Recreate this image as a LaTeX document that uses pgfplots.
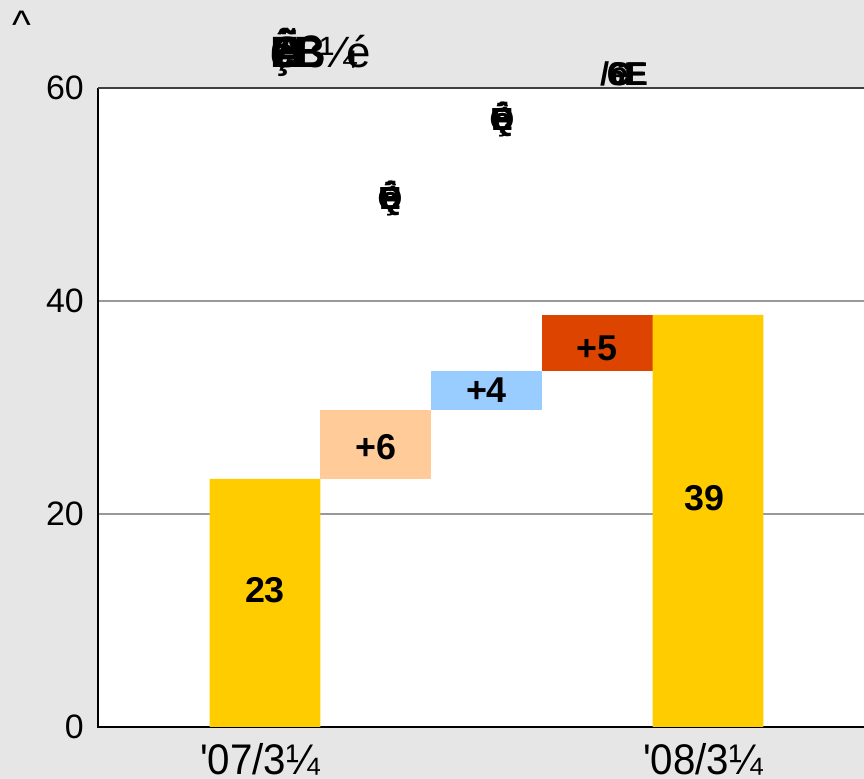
\documentclass[border=0pt]{standalone}
\usepackage{fontspec}
\setmainfont{Liberation Sans}
\newfontfamily\lbl{Liberation Sans}
\usepackage{graphicx}
\usepackage{pgfplots}
\pgfplotsset{compat=1.18}
\definecolor{bg}{HTML}{E6E6E6}
\definecolor{gold}{HTML}{FFCC00}
\definecolor{peach}{HTML}{FFCC99}
\definecolor{sky}{HTML}{99CCFF}
\definecolor{rust}{HTML}{DD4400}
\newcommand{\ov}[1]{\makebox[0pt][c]{#1}}
\newcommand{\xa}{\scalebox{0.94}[1]{\lbl '07/3¼}}
\newcommand{\xb}{\scalebox{0.94}[1]{\lbl '08/3¼}}
\begin{document}
\begin{tikzpicture}[x=1bp,y=1bp]
\useasboundingbox (0,0) rectangle (864,779);
\fill[bg] (0,0) rectangle (864,779);
\begin{axis}[
  at={(98bp,52bp)}, anchor=south west,
  width=766bp, height=639bp, scale only axis,
  xmin=-1.508, xmax=5.409, ymin=0, ymax=60,
  axis background/.style={fill=white},
  axis line style={draw=none},
  ytick={0,20,40,60},
  xtick={0,4},
  xticklabels={\xa,\xb},
  major tick length=0,
  ymajorgrids,
  grid style={color=black!40, line width=1.2bp},
  /pgf/number format/assume math mode=true,
  yticklabel style={font=\fontsize{34}{40}\selectfont, inner sep=0pt, xshift=-14bp},
  xticklabel style={font=\fontsize{43}{46}\selectfont, inner sep=0pt, anchor=north, yshift=-16bp, xshift=-5bp},
  ybar stacked, bar width=1,
  clip=false,
]
\addplot[draw=none, fill=none] coordinates {(0,0) (1,23.29) (2,29.77) (3,33.43) (4,0)};
\addplot[draw=none, fill=gold] coordinates {(0,23.29) (1,0) (2,0) (3,0) (4,38.69)};
\addplot[draw=none, fill=peach] coordinates {(0,0) (1,6.48) (2,0) (3,0) (4,0)};
\addplot[draw=none, fill=sky] coordinates {(0,0) (1,0) (2,3.66) (3,0) (4,0)};
\addplot[draw=none, fill=rust] coordinates {(0,0) (1,0) (2,0) (3,5.26) (4,0)};
\draw[black!75, line width=2bp] (rel axis cs:0,1) -- (rel axis cs:1,1);
\draw[black, line width=1.5bp] (rel axis cs:0,1) -- (rel axis cs:0,0) -- (rel axis cs:1,0);
\coordinate (l1) at (axis cs:0,12.86);
\coordinate (l2) at (axis cs:1,26.3);
\coordinate (l3) at (axis cs:2,31.6);
\coordinate (l4) at (axis cs:3,35.6);
\coordinate (l5) at (axis cs:3.97,21.5);
\end{axis}
\begin{scope}[every node/.style={font=\fontsize{36}{40}\selectfont\bfseries}]
\node at (l1) {23};
\node at (l2) {+6};
\node at (l3) {+4};
\node at (l4) {+5};
\node at (l5) {39};
\end{scope}
\node[anchor=base, inner sep=0pt, font=\fontsize{40}{44}\selectfont] at (22,740) {\textasciicircum};
\node[anchor=base west, inner sep=0pt, font=\fontsize{44}{48}\selectfont] at (270,711)
  {\rlap{\bfseries Õ}\rlap{\bfseries Ê}\rlap{\bfseries ç}\rlap{\hspace{3bp}\bfseries Ä}\hspace{24bp}\rlap{\bfseries B}\rlap{\hspace{4bp}ß}\hspace{26bp}\rlap{¼}\hspace{26bp}é};
\node[anchor=base, inner sep=0pt, font=\fontsize{32}{36}\selectfont\bfseries] at (390,569) {\ov{é}\ov{ç}\ov{Ê}\ov{Ú}\ov{Ë}\ov{Q}};
\node[anchor=base, inner sep=0pt, font=\fontsize{32}{36}\selectfont\bfseries] at (502,648) {\ov{é}\ov{ç}\ov{Ê}\ov{Ú}\ov{Ë}\ov{Q}};
\node[anchor=base west, inner sep=0pt, font=\fontsize{33}{36}\selectfont\bfseries] at (600,693)
  {\rlap{/}\hspace{7bp}\rlap{6}\rlap{C}\rlap{\hspace{3bp}e}\hspace{17bp}\rlap{E}\rlap{\hspace{2bp}E}};
\end{tikzpicture}
\end{document}
